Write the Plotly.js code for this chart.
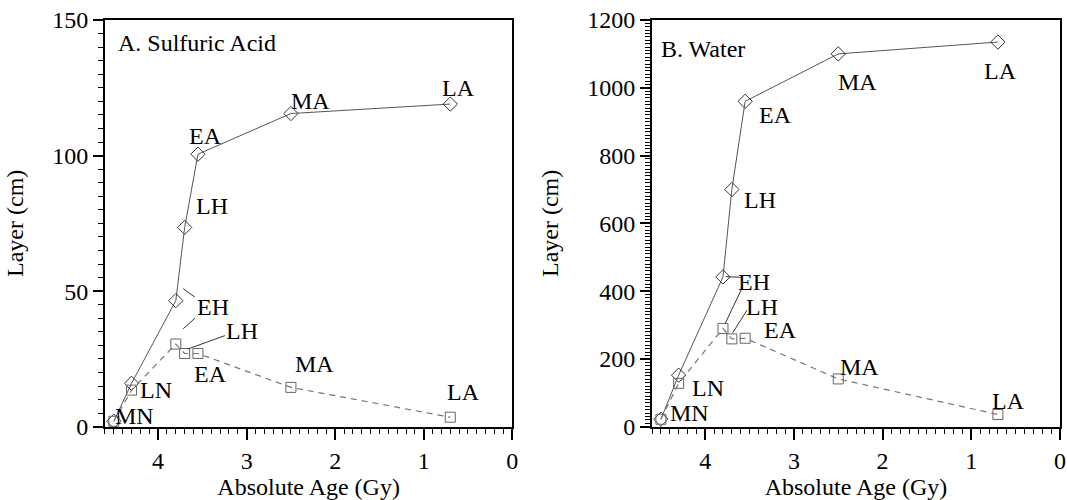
<!DOCTYPE html>
<html>
<head>
<meta charset="utf-8">
<script src="https://cdn.plot.ly/plotly-3.0.1.min.js"></script>
</head>
<body style="margin:0">
<div id="chart" style="width:1067px;height:500px"></div>
<script>
// ---- data ----
const epochs = ['MN', 'LN', 'EH', 'LH', 'EA', 'MA', 'LA'];
const ages = [4.5, 4.3, 3.8, 3.7, 3.55, 2.5, 0.7];
const acidDiamond = [2, 16, 46.5, 73.5, 100.5, 115.5, 119];
const acidSquare = [2, 13.5, 30.5, 27, 27, 14.5, 3.5];
const waterDiamond = [22, 152, 442, 700, 960, 1100, 1135];
const waterSquare = [22, 128, 290, 259, 261, 141, 36];
const panelTitles = ['A. Sulfuric Acid', 'B. Water'];
const xTitle = 'Absolute Age (Gy)';
const yTitle = 'Layer (cm)';

// ---- styles ----
const FONT = 'Liberation Serif';
const fs = 24;
const diamondStyle = {mode: 'lines+markers', line: {color: '#555', width: 1},
  marker: {symbol: 'diamond-open', size: 11, color: '#333', line: {width: 1, color: '#333'}}};
const squareStyle = {mode: 'lines+markers', line: {color: '#777', width: 1.2, dash: '6px,5px'},
  marker: {symbol: 'square-open', size: 10, color: '#666', line: {width: 1, color: '#666'}}};

function tr(y, style, xa, ya, name) {
  return Object.assign({x: ages, y: y, type: 'scatter', xaxis: xa, yaxis: ya, name: name,
    showlegend: false, cliponaxis: false}, JSON.parse(JSON.stringify(style)));
}
const data = [
  tr(acidDiamond, diamondStyle, 'x', 'y', 'acid diamond'),
  tr(acidSquare, squareStyle, 'x', 'y', 'acid square'),
  tr(waterDiamond, diamondStyle, 'x2', 'y2', 'water diamond'),
  tr(waterSquare, squareStyle, 'x2', 'y2', 'water square')
];

// label placements: [series, epoch index, dx px, dy px (up)]
const acidLabels = [
  [acidDiamond, 6, 8, 16], [acidDiamond, 5, 20, 13], [acidDiamond, 4, 8, 18],
  [acidDiamond, 3, 27, 21], [acidDiamond, 2, 37, -6],
  [acidSquare, 1, 24, 0], [acidSquare, 0, 21, 5],
  [acidSquare, 3, 57, 22], [acidSquare, 4, 13, -21], [acidSquare, 5, 24, 23], [acidSquare, 6, 13, 25]
];
const waterLabels = [
  [waterDiamond, 6, 3, -29], [waterDiamond, 5, 19, -28], [waterDiamond, 4, 30, -14],
  [waterDiamond, 3, 28, -11], [waterDiamond, 2, 31, -5],
  [waterSquare, 1, 29, -5], [waterSquare, 0, 29, 6],
  [waterSquare, 3, 30, 32], [waterSquare, 4, 35, 8], [waterSquare, 5, 21, 12], [waterSquare, 6, 11, 14]
];
const annotations = [];
function addLabels(list, xr, yr) {
  list.forEach(function (l) {
    annotations.push({x: ages[l[1]], y: l[0][l[1]], xref: xr, yref: yr, text: epochs[l[1]],
      showarrow: false, xshift: l[2], yshift: l[3], font: {family: FONT, size: fs, color: '#000'}});
  });
}
addLabels(acidLabels, 'x', 'y');
addLabels(waterLabels, 'x2', 'y2');
annotations.push({x: 0, y: 1, xref: 'x domain', yref: 'y domain', xanchor: 'left', yanchor: 'top',
  xshift: 11, yshift: -8, text: panelTitles[0], showarrow: false, font: {family: FONT, size: fs, color: '#000'}});
annotations.push({x: 0, y: 1, xref: 'x2 domain', yref: 'y2 domain', xanchor: 'left', yanchor: 'top',
  xshift: 7, yshift: -14, text: panelTitles[1], showarrow: false, font: {family: FONT, size: fs, color: '#000'}});

// leader lines (data coordinates)
function seg(xr, yr, x0, y0, x1, y1, dash) {
  return {type: 'line', xref: xr, yref: yr, x0: x0, y0: y0, x1: x1, y1: y1,
    line: {color: '#333', width: 1, dash: dash || 'solid'}};
}
const shapes = [
  seg('x', 'y', 3.717, 50.9, 3.585, 47.8), seg('x', 'y', 3.717, 36.1, 3.585, 40.0),
  seg('x', 'y', 3.661, 28.7, 3.246, 33.6),
  seg('x2', 'y2', 3.77, 442.7, 3.604, 440.9), seg('x2', 'y2', 3.774, 305, 3.578, 413),
  seg('x2', 'y2', 3.691, 277, 3.528, 344)
];

function xaxis(domain, anchor) {
  return {domain: domain, anchor: anchor, range: [4.6, 0], dtick: 1, tick0: 0,
    showgrid: false, zeroline: false, showline: true, linecolor: '#000', linewidth: 2, mirror: true,
    ticks: 'outside', ticklen: 11, tickwidth: 1.5, tickcolor: '#000',
    minor: {dtick: 0.1, ticks: 'outside', ticklen: 5, tickwidth: 1, tickcolor: '#000', showgrid: false},
    tickfont: {family: FONT, size: fs, color: '#000'},
    title: {text: xTitle, font: {family: FONT, size: fs, color: '#000'}, standoff: 6}};
}
function yaxis(domain, anchor, range, dtick, mdtick) {
  return {domain: domain, anchor: anchor, range: range, dtick: dtick, tick0: 0,
    showgrid: false, zeroline: false, showline: true, linecolor: '#000', linewidth: 2, mirror: true,
    ticks: 'outside', ticklen: 10, tickwidth: 1.5, tickcolor: '#000',
    minor: {dtick: mdtick, ticks: 'outside', ticklen: 5, tickwidth: 1, tickcolor: '#000', showgrid: false},
    tickfont: {family: FONT, size: fs, color: '#000'},
    title: {text: yTitle, font: {family: FONT, size: fs, color: '#000'}, standoff: 22}};
}
const yd = [0.1466, 0.96];
const layout = {
  width: 1067, height: 500, margin: {l: 0, r: 0, t: 0, b: 0},
  paper_bgcolor: '#fff', plot_bgcolor: '#fff',
  font: {family: FONT, size: fs, color: '#000'},
  xaxis: xaxis([0.0984, 0.4801], 'y'),
  yaxis: yaxis(yd, 'x', [0, 150], 50, 5),
  xaxis2: xaxis([0.6111, 0.9934], 'y2'),
  yaxis2: yaxis(yd, 'x2', [0, 1200], 200, 10),
  annotations: annotations,
  shapes: shapes
};
Plotly.newPlot('chart', data, layout, {displayModeBar: false});
</script>
</body>
</html>
